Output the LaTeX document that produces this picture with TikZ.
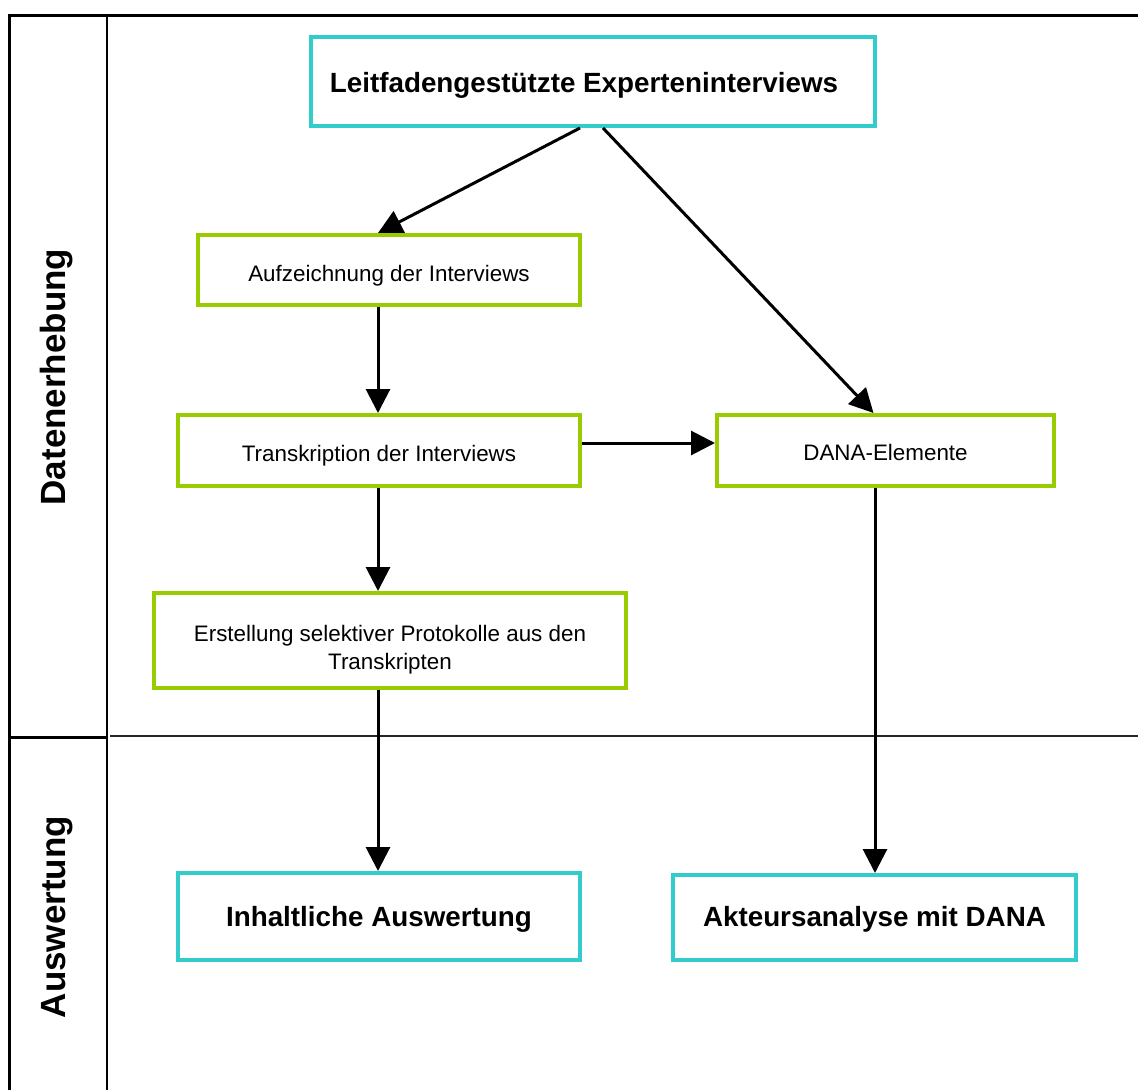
\documentclass[tikz,border=0pt]{standalone}
\usepackage{fontspec}
\setmainfont{Liberation Sans}
\usetikzlibrary{arrows.meta,calc}
\definecolor{boxcyan}{HTML}{33CCCC}
\definecolor{boxgreen}{HTML}{99CC00}
% lower a line of text inside its box without changing the box size
\newcommand{\lowered}[2]{\raisebox{-#1}[\height][\depth]{#2}}
\begin{document}
\begin{tikzpicture}[x=1pt,y=-1pt,
  frame/.style={line width=3pt,black},
  sep/.style={line width=2pt,black},
  mainbox/.style={draw=boxcyan,line width=4pt,inner sep=0pt,outer sep=2pt,
    font=\fontsize{27.8}{32}\selectfont\bfseries,align=center},
  stepbox/.style={draw=boxgreen,line width=4pt,inner sep=0pt,outer sep=2pt,
    font=\fontsize{22.4}{28}\selectfont,align=center},
  phase/.style={rotate=90,font=\fontsize{35}{40}\selectfont\bfseries},
  flow/.style={line width=3pt,-{Triangle[length=24pt,width=24pt]}}]
\useasboundingbox (0,0) rectangle (1138,1090);

% table frame
\draw[frame] (9,1090) -- (9,15) -- (1138,15);
\draw[sep] (107,15) -- (107,1090);
\draw[frame] (9,737) -- (107,737);
\draw[sep,black!85] (110,736) -- (1138,736);

% phase labels
\node[phase] (lab1) at (57,377) {Datenerhebung};
\node[phase] (lab2) at (57,917) {Auswertung};

% boxes
\node[mainbox,minimum width=564pt,minimum height=89pt] (top) at (593,81.5)
  {\lowered{4pt}{Leitfadengestützte Experteninterviews}\hspace*{18pt}};
\node[stepbox,minimum width=382pt,minimum height=70pt] (aufz) at (389,270)
  {\lowered{6pt}{Aufzeichnung der Interviews}};
\node[stepbox,minimum width=402pt,minimum height=71pt] (trans) at (379,450.5)
  {\lowered{5pt}{Transkription der Interviews}};
\node[stepbox,minimum width=337pt,minimum height=71pt] (dana) at (885.5,450.5)
  {\lowered{1.5pt}{DANA-Elemente}};
\node[stepbox,minimum width=472pt,minimum height=95pt] (erst) at (390,640.5)
  {\lowered{9pt}{\begin{tabular}{@{}c@{}}Erstellung selektiver Protokolle aus den\\Transkripten\end{tabular}}};
\node[mainbox,minimum width=402pt,minimum height=87pt] (inh) at (379,916.5)
  {\lowered{3pt}{Inhaltliche Auswertung}};
\node[mainbox,minimum width=403pt,minimum height=85pt] (akt) at (874.5,917.5)
  {\lowered{2pt}{Akteursanalyse mit DANA}};

% connectors
\draw[flow] ([xshift=-13pt]top.south) -- ([xshift=-11pt]aufz.north);
\draw[flow] ([xshift=10pt]top.south) -- ([xshift=-12pt]dana.north);
\draw[flow] ([xshift=-11pt]aufz.south) -- ([xshift=-1pt]trans.north);
\draw[flow] ([yshift=7.5pt]trans.east) -- ([yshift=7.5pt]dana.west);
\draw[flow] ([xshift=-1pt]trans.south) -- ([xshift=-12pt]erst.north);
\draw[flow] ([xshift=-12pt]erst.south) -- ([xshift=-1pt]inh.north);
\draw[flow] ([xshift=-10.5pt]dana.south) -- ([xshift=0.5pt]akt.north);
\end{tikzpicture}
\end{document}
